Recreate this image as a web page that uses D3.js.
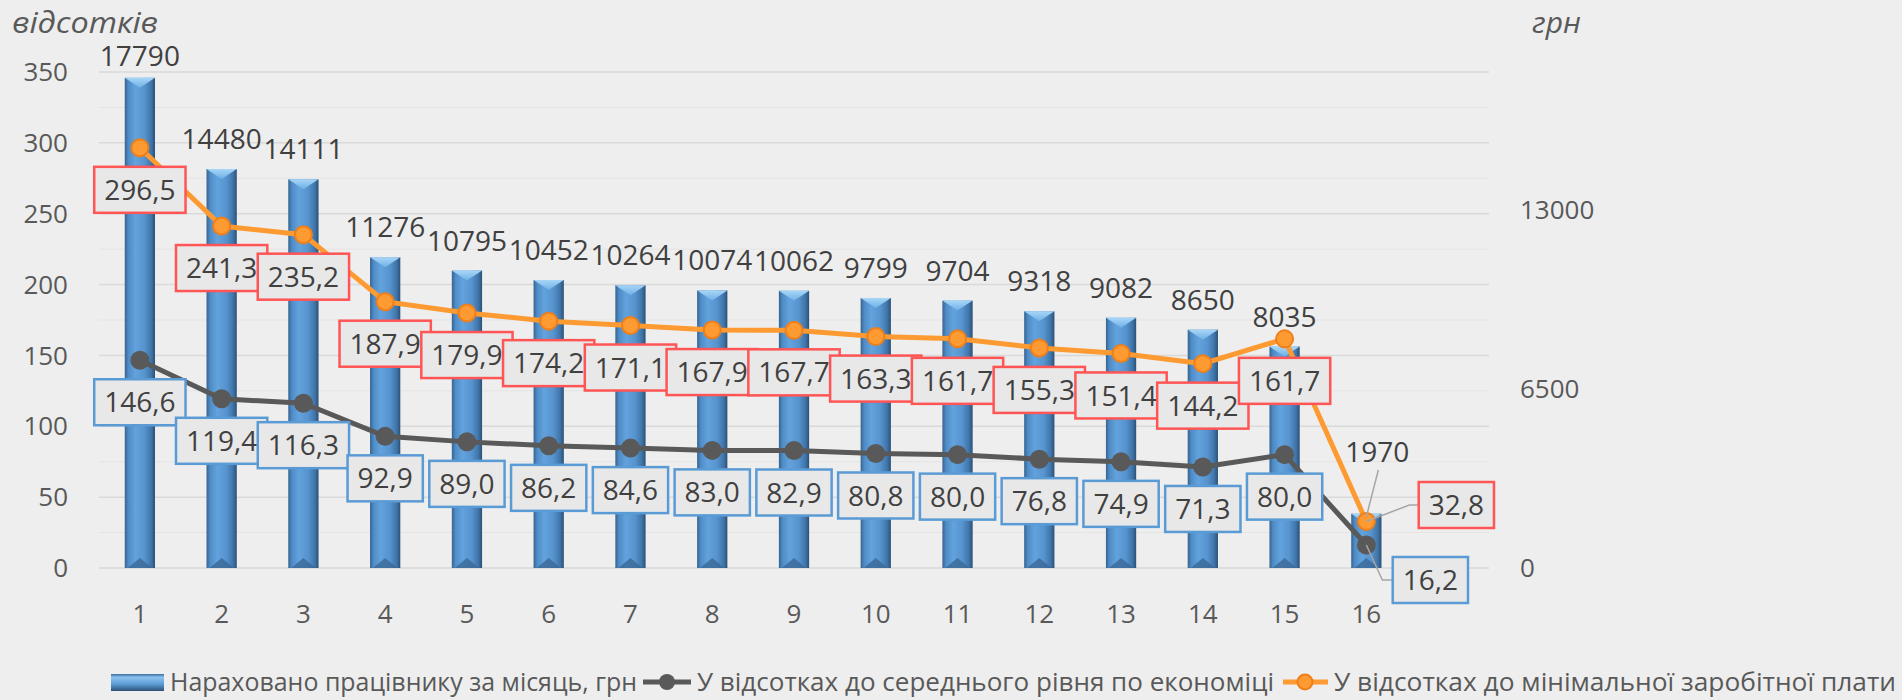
<!DOCTYPE html>
<html>
<head>
<meta charset="utf-8">
<script src="https://cdn.jsdelivr.net/npm/d3@7"></script>
<style>
html, body { margin: 0; padding: 0; background: #eeeeee; }
svg { display: block; font-family: "Open Sans", sans-serif; }
</style>
</head>
<body>
<svg id="chart" width="1902" height="700"></svg>
<script>
// categories (17th slot is empty in the original chart)
var categories = [1,2,3,4,5,6,7,8,9,10,11,12,13,14,15,16];
var wages = [17790,14480,14111,11276,10795,10452,10264,10074,10062,9799,9704,9318,9082,8650,8035,1970];
var pctAverage = [146.6,119.4,116.3,92.9,89.0,86.2,84.6,83.0,82.9,80.8,80.0,76.8,74.9,71.3,80.0,16.2];
var pctMinimum = [296.5,241.3,235.2,187.9,179.9,174.2,171.1,167.9,167.7,163.3,161.7,155.3,151.4,144.2,161.7,32.8];
var leftTicks = [0,50,100,150,200,250,300,350];
var rightTicks = [0,6500,13000];
var legendLabels = ["Нараховано працівнику за місяць, грн",
	"У відсотках до середнього рівня по економіці",
	"У відсотках до мінімальної заробітної плати"];

var svg = d3.select("#chart");
var plot = {left: 99, right: 1489, top: 72, bottom: 568};

var x = d3.scaleBand()
	.domain(d3.range(1, 18))
	.range([plot.left, plot.right])
	.paddingInner(0.63)
	.paddingOuter(0.315);
var cx = function(c){ return x(c) + x.bandwidth()/2; };
var yL = d3.scaleLinear().domain([0, 350]).range([plot.bottom, plot.top]);
var yR = d3.scaleLinear().domain([0, 18000]).range([plot.bottom, plot.top]);

var fmt = function(v){ return d3.format(".1f")(v).replace(".", ","); };

// gradients
var defs = svg.append("defs");
var g1 = defs.append("linearGradient").attr("id", "barGrad");
[[0,"#35638f"],[0.12,"#4f8cc6"],[0.35,"#62a2dd"],[0.65,"#5794cf"],[0.88,"#3f74a8"],[1,"#2b5075"]]
	.forEach(function(s){ g1.append("stop").attr("offset", s[0]).attr("stop-color", s[1]); });
var g2 = defs.append("linearGradient").attr("id", "topGrad").attr("x1",0).attr("y1",0).attr("x2",0).attr("y2",1);
[[0,"#a9d6f7"],[1,"#6eb0e6"]].forEach(function(s){ g2.append("stop").attr("offset", s[0]).attr("stop-color", s[1]); });
var g3 = defs.append("linearGradient").attr("id", "legGrad").attr("x1",0).attr("y1",0).attr("x2",0).attr("y2",1);
[[0,"#3c6f9f"],[0.2,"#8cc2ee"],[0.6,"#5b9bd5"],[1,"#2b5075"]]
	.forEach(function(s){ g3.append("stop").attr("offset", s[0]).attr("stop-color", s[1]); });

// gridlines, every 25 with lighter minor lines
svg.append("g").selectAll("line")
	.data(d3.range(0, 351, 25))
	.enter().append("line")
	.attr("x1", plot.left).attr("x2", plot.right)
	.attr("y1", function(d){ return yL(d); }).attr("y2", function(d){ return yL(d); })
	.attr("stroke", function(d){ return d % 50 == 0 ? "#d9d9d9" : "#e4e4e4"; })
	.attr("stroke-width", function(d){ return d % 50 == 0 ? 1.5 : 1; });

// left axis
svg.append("g").selectAll("text")
	.data(leftTicks)
	.enter().append("text")
	.attr("x", 68).attr("y", function(d){ return yL(d); })
	.attr("dy", "0.35em").attr("text-anchor", "end")
	.attr("font-size", 26).attr("fill", "#595959")
	.text(function(d){ return d; });

// right axis
svg.append("g").selectAll("text")
	.data(rightTicks)
	.enter().append("text")
	.attr("x", 1520).attr("y", function(d){ return yR(d); })
	.attr("dy", "0.35em")
	.attr("font-size", 26).attr("fill", "#595959")
	.text(function(d){ return d; });

// category labels
svg.append("g").selectAll("text")
	.data(categories)
	.enter().append("text")
	.attr("x", function(d){ return cx(d); }).attr("y", 614)
	.attr("dy", "0.35em").attr("text-anchor", "middle")
	.attr("font-size", 26).attr("fill", "#595959")
	.text(function(d){ return d; });

// axis titles
svg.append("text").attr("x", 12).attr("y", 33)
	.attr("font-size", 30).attr("font-style", "italic").attr("fill", "#595959")
	.attr("textLength", 146).attr("lengthAdjust", "spacingAndGlyphs")
	.text("відсотків");
svg.append("text").attr("x", 1532).attr("y", 33)
	.attr("font-size", 30).attr("font-style", "italic").attr("fill", "#595959")
	.text("грн");

// bars
var bars = svg.append("g").selectAll("g.bar")
	.data(categories)
	.enter().append("g").attr("class", "bar");
var bw = x.bandwidth(), bev = 10;
bars.append("rect")
	.attr("x", function(d){ return x(d); })
	.attr("y", function(d,i){ return yR(wages[i]); })
	.attr("width", bw)
	.attr("height", function(d,i){ return plot.bottom - yR(wages[i]); })
	.attr("fill", "url(#barGrad)");
bars.append("path")
	.attr("d", function(d,i){
		var x0 = x(d), t = yR(wages[i]);
		return "M"+x0+","+t+"L"+(x0+bw)+","+t+"L"+(x0+bw/2)+","+(t+bev)+"Z";
	})
	.attr("fill", "url(#topGrad)");
bars.append("path")
	.attr("d", function(d){
		var x0 = x(d), b = plot.bottom;
		return "M"+(x0+3)+","+b+"L"+(x0+bw-3)+","+b+"L"+(x0+bw/2)+","+(b-bev)+"Z";
	})
	.attr("fill", "#3a6896").attr("opacity", 0.8);

// lines
var lineL = d3.line()
	.x(function(d,i){ return cx(categories[i]); })
	.y(function(d){ return yL(d); });
svg.append("path").datum(pctAverage)
	.attr("d", lineL).attr("fill", "none")
	.attr("stroke", "#595959").attr("stroke-width", 5);
svg.append("path").datum(pctMinimum)
	.attr("d", lineL).attr("fill", "none")
	.attr("stroke", "#fd9a31").attr("stroke-width", 5);
svg.append("g").selectAll("circle")
	.data(pctAverage)
	.enter().append("circle")
	.attr("cx", function(d,i){ return cx(categories[i]); })
	.attr("cy", function(d){ return yL(d); })
	.attr("r", 9.5).attr("fill", "#595959");
svg.append("g").selectAll("circle")
	.data(pctMinimum)
	.enter().append("circle")
	.attr("cx", function(d,i){ return cx(categories[i]); })
	.attr("cy", function(d){ return yL(d); })
	.attr("r", 8.5).attr("fill", "#fd9a31")
	.attr("stroke", "#ef7f1a").attr("stroke-width", 2);

// leader lines for the last category
var last = categories.length - 1, lc = cx(categories[last]);
var leaders = svg.append("g").attr("stroke", "#a6a6a6").attr("stroke-width", 1.5).attr("fill", "none");
leaders.append("path").attr("d", "M"+(lc+12)+",470L"+lc+","+(yR(wages[last])+3));
leaders.append("path").attr("d", "M"+lc+","+yL(pctMinimum[last])+"L"+(lc+43)+",505L"+(lc+54)+",505");
leaders.append("path").attr("d", "M"+lc+","+yL(pctAverage[last])+"L"+(lc+16)+",580L"+(lc+28)+",580");

// bar value labels
svg.append("g").selectAll("text")
	.data(wages)
	.enter().append("text")
	.attr("x", function(d,i){ return cx(categories[i]) + (i == last ? 11 : 0); })
	.attr("y", function(d,i){ return i == last ? 462 : Math.max(66, yR(d) - 20); })
	.attr("text-anchor", "middle")
	.attr("font-size", 28).attr("fill", "#404040")
	.text(function(d){ return d; });

// boxed data labels
function boxLabels(values, stroke, lastPos){
	var g = svg.append("g").selectAll("g")
		.data(values)
		.enter().append("g")
		.attr("transform", function(d,i){
			if (i == last) return "translate(" + lastPos[0] + "," + lastPos[1] + ")";
			return "translate(" + cx(categories[i]) + "," + (yL(d) + 42) + ")";
		});
	var rects = g.append("rect");
	var texts = g.append("text")
		.attr("text-anchor", "middle").attr("dy", "0.36em")
		.attr("font-size", 28).attr("fill", "#404040")
		.text(function(d){ return fmt(d); });
	texts.each(function(){
		var w = this.getComputedTextLength() + 20;
		d3.select(this.previousSibling)
			.attr("x", -w/2).attr("y", -23).attr("width", w).attr("height", 46)
			.attr("fill", "#e8e8e8").attr("stroke", stroke).attr("stroke-width", 2.5);
	});
}
boxLabels(pctAverage, "#5b9bd5", [lc + 64, 580]);
boxLabels(pctMinimum, "#ff5555", [lc + 90, 505]);

// legend
var leg = svg.append("g").attr("font-size", 26).attr("fill", "#595959");
leg.append("rect").attr("x", 111).attr("y", 674).attr("width", 53).attr("height", 17)
	.attr("fill", "url(#legGrad)");
leg.append("text").attr("x", 170).attr("y", 691)
	.attr("textLength", 467).attr("lengthAdjust", "spacingAndGlyphs").text(legendLabels[0]);
leg.append("line").attr("x1", 643).attr("x2", 691).attr("y1", 682).attr("y2", 682)
	.attr("stroke", "#595959").attr("stroke-width", 5);
leg.append("circle").attr("cx", 667).attr("cy", 682).attr("r", 8).attr("fill", "#595959");
leg.append("text").attr("x", 697).attr("y", 691)
	.attr("textLength", 577).attr("lengthAdjust", "spacingAndGlyphs").text(legendLabels[1]);
leg.append("line").attr("x1", 1283).attr("x2", 1328).attr("y1", 682).attr("y2", 682)
	.attr("stroke", "#fd9a31").attr("stroke-width", 5);
leg.append("circle").attr("cx", 1305).attr("cy", 682).attr("r", 7.5).attr("fill", "#fd9a31")
	.attr("stroke", "#ef7f1a").attr("stroke-width", 2);
leg.append("text").attr("x", 1334).attr("y", 691)
	.attr("textLength", 562).attr("lengthAdjust", "spacingAndGlyphs").text(legendLabels[2]);
</script>
</body>
</html>
